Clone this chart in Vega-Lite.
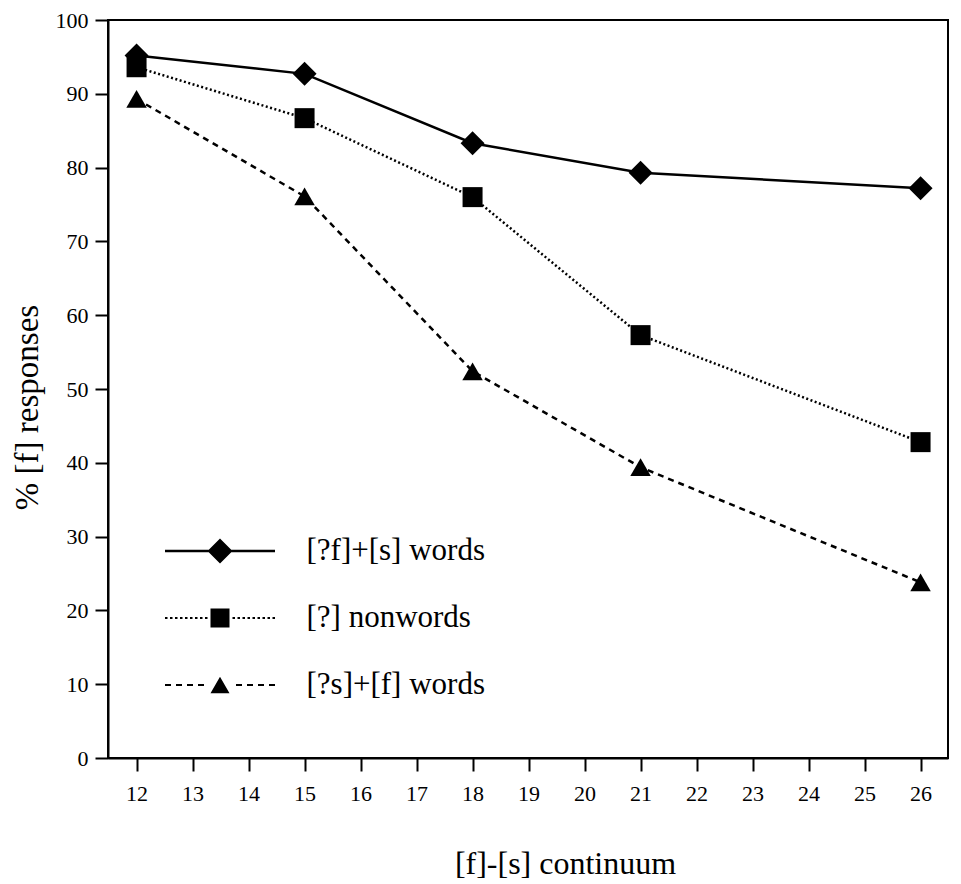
{
  "$schema": "https://vega.github.io/schema/vega-lite/v6.json",
  "width": 840,
  "height": 738,
  "padding": {"left": 11, "top": 9, "right": 5, "bottom": 5},
  "background": "white",
  "data": {
    "values": [
      {"series": "[?f]+[s] words", "x": 12, "y": 95.2},
      {"series": "[?f]+[s] words", "x": 15, "y": 92.7},
      {"series": "[?f]+[s] words", "x": 18, "y": 83.3},
      {"series": "[?f]+[s] words", "x": 21, "y": 79.3},
      {"series": "[?f]+[s] words", "x": 26, "y": 77.2},
      {"series": "[?] nonwords", "x": 12, "y": 93.6},
      {"series": "[?] nonwords", "x": 15, "y": 86.7},
      {"series": "[?] nonwords", "x": 18, "y": 76.0},
      {"series": "[?] nonwords", "x": 21, "y": 57.3},
      {"series": "[?] nonwords", "x": 26, "y": 42.8},
      {"series": "[?s]+[f] words", "x": 12, "y": 89.3},
      {"series": "[?s]+[f] words", "x": 15, "y": 76.1},
      {"series": "[?s]+[f] words", "x": 18, "y": 52.4},
      {"series": "[?s]+[f] words", "x": 21, "y": 39.4},
      {"series": "[?s]+[f] words", "x": 26, "y": 23.8}
    ]
  },
  "encoding": {
    "x": {
      "field": "x",
      "type": "quantitative",
      "scale": {"domain": [11.49, 26.49], "nice": false, "zero": false},
      "axis": {
        "values": [12, 13, 14, 15, 16, 17, 18, 19, 20, 21, 22, 23, 24, 25, 26],
        "format": "d",
        "title": "[f]-[s] continuum",
        "titleFontSize": 32,
        "titlePadding": 44,
        "labelPadding": 12,
        "titleX": 457
      }
    },
    "y": {
      "field": "y",
      "type": "quantitative",
      "scale": {"domain": [0, 100], "nice": false},
      "axis": {
        "values": [0, 10, 20, 30, 40, 50, 60, 70, 80, 90, 100],
        "title": "% [f] responses",
        "titleFontSize": 33,
        "titlePadding": 11,
        "titleY": 387,
        "labelPadding": 7
      }
    }
  },
  "layer": [
    {
      "transform": [{"filter": "datum.series === '[?f]+[s] words'"}],
      "mark": {"type": "line", "color": "black", "strokeWidth": 2.5}
    },
    {
      "transform": [{"filter": "datum.series === '[?] nonwords'"}],
      "mark": {"type": "line", "color": "black", "strokeWidth": 2.5, "strokeDash": [2, 2.5]}
    },
    {
      "transform": [{"filter": "datum.series === '[?s]+[f] words'"}],
      "mark": {"type": "line", "color": "black", "strokeWidth": 2.5, "strokeDash": [6, 5]}
    },
    {
      "mark": {"type": "point", "filled": true, "color": "black", "opacity": 0, "size": 400},
      "encoding": {
        "shape": {
          "field": "series",
          "type": "nominal",
          "scale": {
            "domain": ["[?f]+[s] words", "[?] nonwords", "[?s]+[f] words"],
            "range": [
              "M-5.5,-0.12H5.5V0.12H-5.5ZM0,-1.25L1.25,0L0,1.25L-1.25,0Z",
              "M-5.5,-0.1h0.25v0.2h-0.25ZM-5,-0.1h0.25v0.2h-0.25ZM-4.5,-0.1h0.25v0.2h-0.25ZM-4,-0.1h0.25v0.2h-0.25ZM-3.5,-0.1h0.25v0.2h-0.25ZM-3,-0.1h0.25v0.2h-0.25ZM-2.5,-0.1h0.25v0.2h-0.25ZM-2,-0.1h0.25v0.2h-0.25ZM-1.5,-0.1h0.25v0.2h-0.25ZM1.25,-0.1h0.25v0.2h-0.25ZM1.75,-0.1h0.25v0.2h-0.25ZM2.25,-0.1h0.25v0.2h-0.25ZM2.75,-0.1h0.25v0.2h-0.25ZM3.25,-0.1h0.25v0.2h-0.25ZM3.75,-0.1h0.25v0.2h-0.25ZM4.25,-0.1h0.25v0.2h-0.25ZM4.75,-0.1h0.25v0.2h-0.25ZM5.25,-0.1h0.25v0.2h-0.25ZM-0.95,-0.95H0.95V0.95H-0.95Z",
              "M-5.5,-0.1h0.6v0.2h-0.6ZM-4.4,-0.1h0.6v0.2h-0.6ZM-3.3,-0.1h0.6v0.2h-0.6ZM-2.2,-0.1h0.6v0.2h-0.6ZM1.6,-0.1h0.6v0.2h-0.6ZM2.7,-0.1h0.6v0.2h-0.6ZM3.8,-0.1h0.6v0.2h-0.6ZM4.9,-0.1h0.6v0.2h-0.6ZM0,-0.82L0.95,0.82H-0.95Z"
            ]
          },
          "legend": {
            "title": null,
            "orient": "none",
            "legendX": 96.5,
            "legendY": 515.5,
            "labelFont": "Liberation Serif",
            "labelFontSize": 31,
            "labelColor": "black",
            "labelOffset": 71,
            "labelLimit": 0,
            "rowPadding": 35,
            "symbolSize": 400,
            "symbolStrokeWidth": 0,
            "symbolOpacity": 1,
            "symbolFillColor": "black",
            "symbolStrokeColor": "black"
          }
        }
      }
    },
    {
      "transform": [{"filter": "datum.series === '[?f]+[s] words'"}],
      "mark": {"type": "point", "shape": "diamond", "size": 576, "filled": true, "color": "black", "opacity": 1}
    },
    {
      "transform": [{"filter": "datum.series === '[?] nonwords'"}],
      "mark": {"type": "point", "shape": "square", "size": 400, "filled": true, "color": "black", "opacity": 1}
    },
    {
      "transform": [{"filter": "datum.series === '[?s]+[f] words'"}],
      "mark": {"type": "point", "shape": "triangle-up", "size": 420, "filled": true, "color": "black", "opacity": 1}
    }
  ],
  "config": {
    "font": "Liberation Serif",
    "view": {"stroke": "black", "strokeWidth": 2},
    "axis": {
      "grid": false,
      "domainColor": "black",
      "domainWidth": 2,
      "tickColor": "black",
      "tickWidth": 2,
      "tickSize": 13,
      "labelFont": "Liberation Serif",
      "labelFontSize": 22,
      "labelColor": "black",
      "titleFont": "Liberation Serif",
      "titleFontSize": 31,
      "titleFontWeight": "normal",
      "titleColor": "black"
    }
  }
}
